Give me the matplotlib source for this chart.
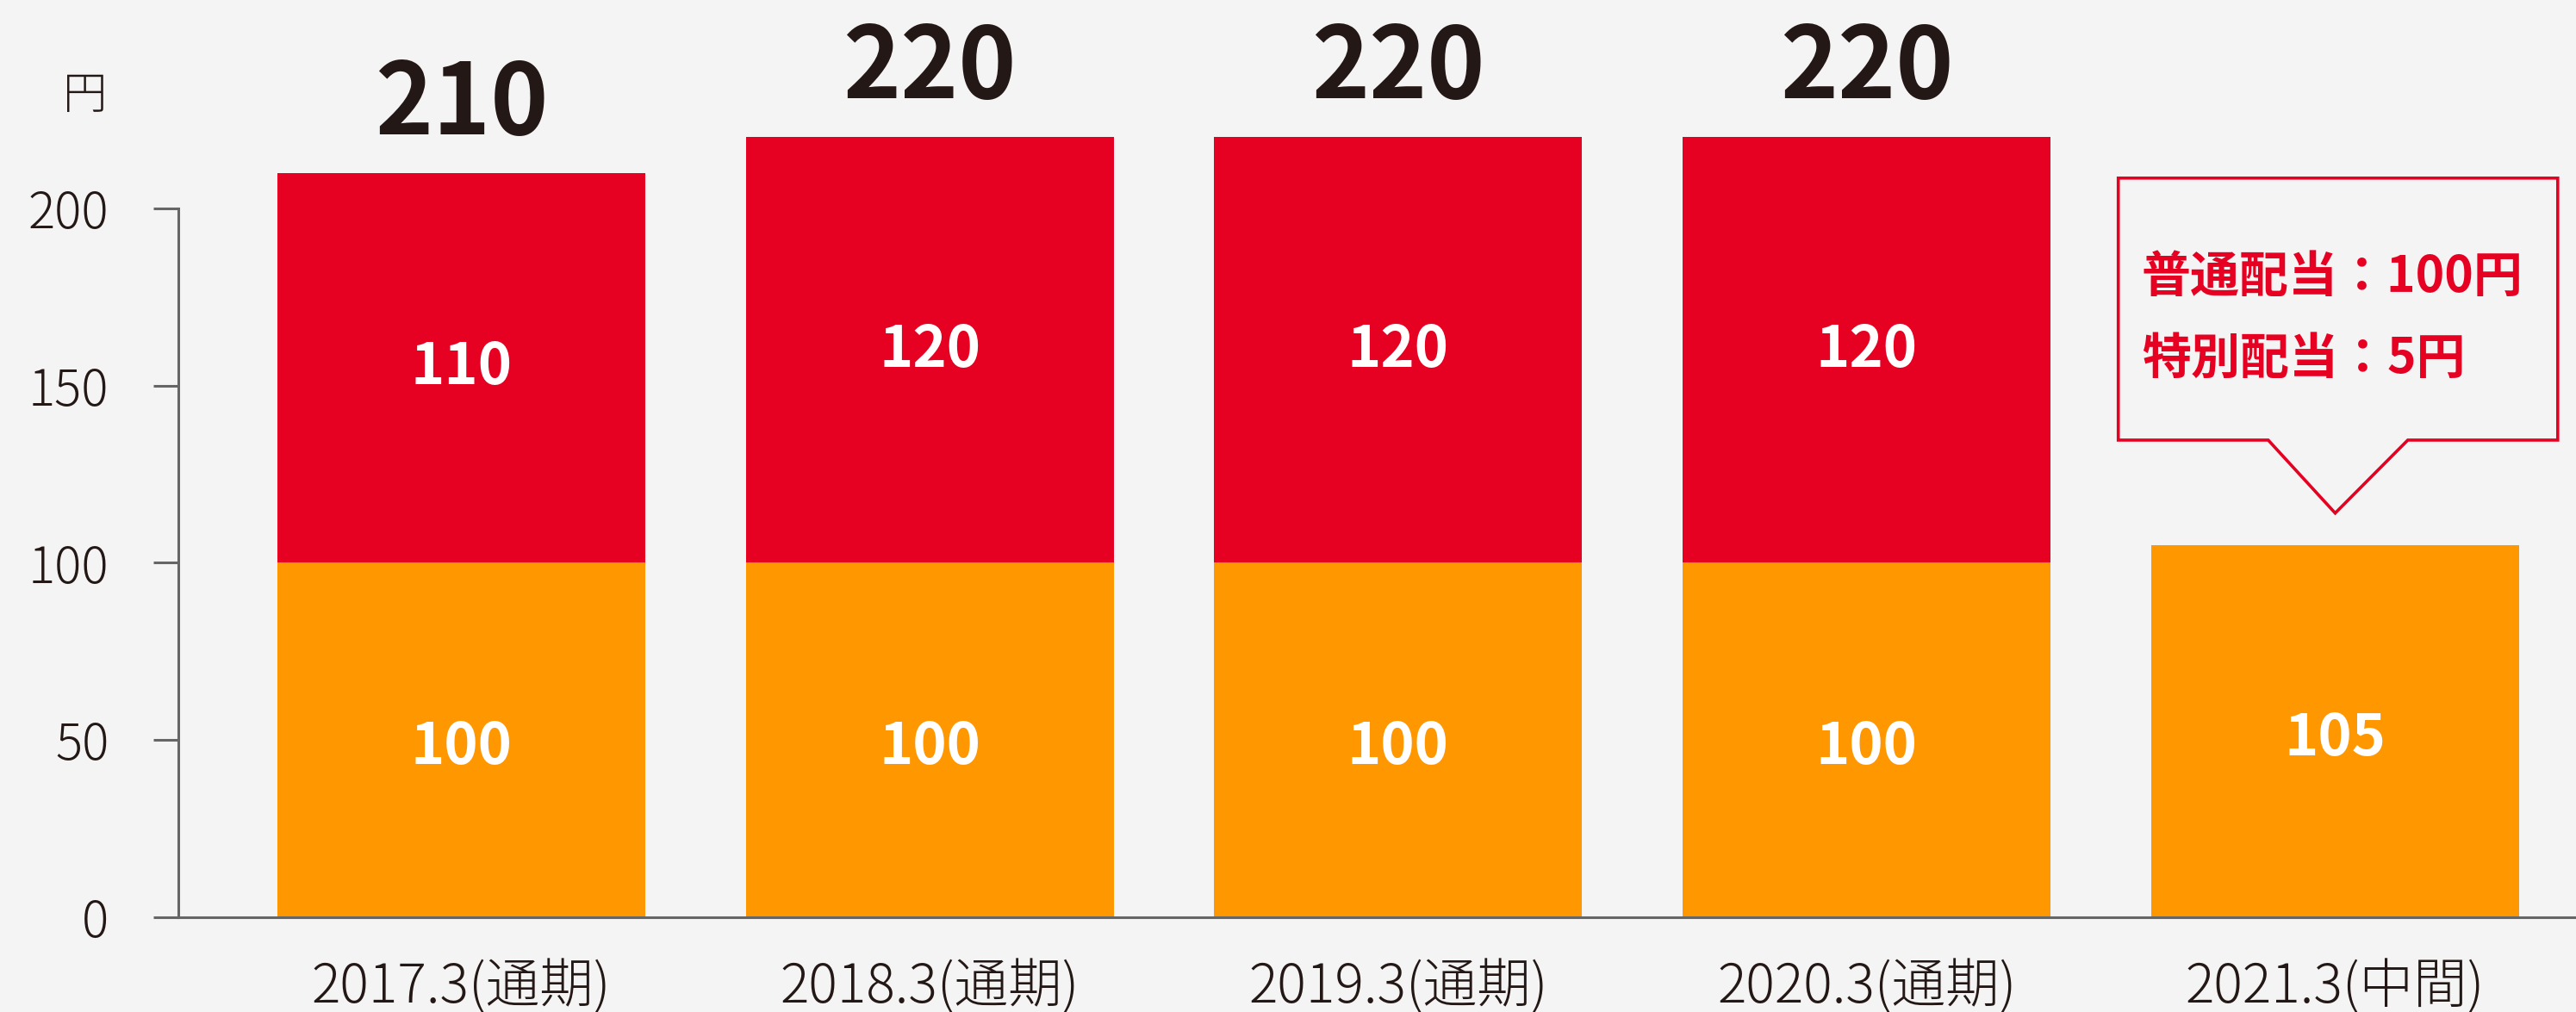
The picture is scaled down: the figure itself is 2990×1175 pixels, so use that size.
import matplotlib
matplotlib.use("agg")
import matplotlib.pyplot as plt
from matplotlib.patches import Polygon

plt.rcParams['font.family'] = ['Noto Sans CJK JP', 'DejaVu Sans']

RED = '#E60021'
ORANGE = '#FF9700'
INK = '#231815'
AXIS_GRAY = '#666666'
BG = '#F4F4F4'

categories = ['2017.3(通期)', '2018.3(通期)', '2019.3(通期)', '2020.3(通期)', '2021.3(中間)']
ordinary = [100, 100, 100, 100, 105]
special = [110, 120, 120, 120, 0]
totals = [210, 220, 220, 220, None]
callout_lines = ['普通配当：100円', '特別配当：5円']


def main():
    fig = plt.figure(figsize=(29.9, 11.75), dpi=100, facecolor=BG)
    ax = fig.add_axes([0.0692, 0.0936, 0.9308, 0.8758])
    ax.set_facecolor(BG)

    x = list(range(len(categories)))
    width = 0.785
    ax.bar(x, ordinary, width=width, color=ORANGE, zorder=2)
    ax.bar(x, special, width=width, bottom=ordinary, color=RED, zorder=2)

    ax.set_xlim(-0.604, 4.514)
    ax.set_ylim(0, 250)

    # segment labels
    for i in x:
        ax.text(i, ordinary[i] / 2 - 2, str(ordinary[i]), ha='center', va='center',
                color='white', fontsize=48, fontweight='bold', zorder=3)
        if special[i]:
            ax.text(i, ordinary[i] + special[i] / 2, str(special[i]), ha='center',
                    va='center', color='white', fontsize=48, fontweight='bold', zorder=3)
        if totals[i] is not None:
            ax.text(i, totals[i] + 19, str(totals[i]), ha='center', va='center',
                    color=INK, fontsize=82, fontweight='bold')

    # callout over the interim bar
    k = len(categories) - 1
    tip = ordinary[k] + 9
    base = tip + 20.6
    top = 208.5
    pts = [(k - 0.463, top), (k + 0.475, top), (k + 0.475, base),
           (k + 0.155, base), (k + 0.0, tip), (k - 0.143, base),
           (k - 0.463, base)]
    ax.add_patch(Polygon(pts, closed=True, fill=False, edgecolor=RED,
                         linewidth=2.6, joinstyle='miter', zorder=4))
    ax.text(k - 0.413, 180.5, callout_lines[0], ha='left', va='center',
            color=RED, fontsize=41, fontweight='bold')
    ax.text(k - 0.413, 157.5, callout_lines[1], ha='left', va='center',
            color=RED, fontsize=41, fontweight='bold')

    # axes styling
    for s in ['top', 'right']:
        ax.spines[s].set_visible(False)
    ax.spines['left'].set_bounds(0, 200)
    for s in ['left', 'bottom']:
        ax.spines[s].set_color(AXIS_GRAY)
        ax.spines[s].set_linewidth(2.2)

    ax.set_yticks([0, 50, 100, 150, 200])
    ax.tick_params(axis='y', direction='out', length=21, width=2.2,
                   color=AXIS_GRAY, pad=37, labelsize=42, labelcolor=INK)
    for lbl in ax.get_yticklabels():
        lbl.set_fontweight('light')

    ax.set_xticks(x)
    ax.set_xticklabels(categories, fontsize=45, color=INK, fontweight='light')
    ax.tick_params(axis='x', length=0, pad=36)

    fig.text(99 / 2990, 1 - 112 / 1175, '円', ha='center', va='center',
             fontsize=37, color=INK, fontweight='light')

    fig.savefig('out.png', dpi=100, facecolor=BG)


if __name__ == '__main__':
    main()
